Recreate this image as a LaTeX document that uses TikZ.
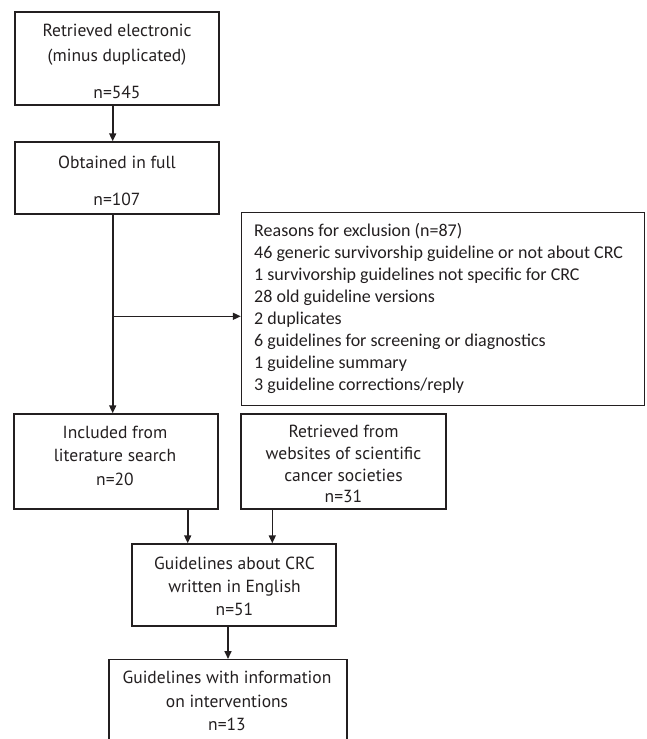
\documentclass[tikz,border=0pt]{standalone}
\usepackage{fontspec}
\setmainfont{PT Sans}
\newfontfamily\exfont{Carlito}
\usetikzlibrary{arrows.meta}
\definecolor{ink}{HTML}{231F20}
\tikzset{
  box/.style={draw=ink, line width=1.4pt, rectangle, inner sep=0pt},
  txt/.style={inner sep=0pt, text=ink, align=center},
  arr/.style={draw=ink, line width=1.6pt, -{Triangle[length=8pt,width=7pt]}},
}
\newsavebox\mbxa
\newsavebox\mbxb
\newsavebox\mbxc
\AtBeginDocument{%
  \sbox\mbxa{\fontsize{18}{20}\selectfont Retrieved electronic}%
  \sbox\mbxb{\fontsize{18}{20}\selectfont Guidelines with information}%
  \sbox\mbxc{\fontsize{18}{20}\selectfont websites of scientific}%
  \pgfmathsetmacro{\tmpbfs}{18*513.3/(\wd\mbxa+\wd\mbxb+\wd\mbxc)}%
  \xdef\bfs{\tmpbfs}}
\newcommand{\fs}[1]{\fontsize{\bfs}{#1}\selectfont}
\begin{document}
\begin{tikzpicture}[x=1pt,y=-1pt]
\useasboundingbox (0,0) rectangle (646,739);
\clip (0,0) rectangle (646,739);
% boxes
\node[box, minimum width=204pt, minimum height=93pt] (b1) at (117,58.5) {};
\node[box, minimum width=204pt, minimum height=72pt] (b2) at (117,178) {};
\node[box, minimum width=403pt, minimum height=192.8pt] (ex) at (443,309.1) {};
\node[box, minimum width=204pt, minimum height=95pt] (b3) at (116,461.5) {};
\node[box, minimum width=205pt, minimum height=95pt] (b4) at (343.5,461.5) {};
\node[box, minimum width=204pt, minimum height=82pt] (b5) at (234,585) {};
\node[box, minimum width=238pt, minimum height=100pt, anchor=north] (b6) at (228,659) {};
% texts
\node[txt, font=\fs{25}] (t1) at (117,62)
  {\strut Retrieved electronic\\\strut(minus duplicated)\\[12pt]\strut n=545};
\node[txt, font=\fs{25}] (t2) at (117,181.5)
  {\strut Obtained in full\\[12pt]\strut n=107};
\node[txt, font=\exfont\fontsize{18}{22}\selectfont, align=left, anchor=west] (tex) at (254,309.5)
  {\strut Reasons for exclusion (n=87)\\
   \strut 46 generic survivorship guideline or not about CRC\\
   \strut 1 survivorship guidelines not specific for CRC\\
   \strut 28 old guideline versions\\
   \strut 2 duplicates\\
   \strut 6 guidelines for screening or diagnostics\\
   \strut 1 guideline summary\\
   \strut 3 guideline corrections/reply};
\node[txt, font=\fs{23.5}] (t3) at (115,457)
  {\strut Included from\\\strut literature search\\\strut n=20};
\node[txt, font=\fs{21.7}] (t4) at (343.5,466)
  {\strut Retrieved from\\\strut websites of scientific\\\strut cancer societies\\\strut n=31};
\node[txt, font=\fs{23}] (t5) at (234.5,587.5)
  {\strut Guidelines about CRC\\\strut written in English\\\strut n=51};
\node[txt, font=\fs{23.5}] (t6) at (227,702.3)
  {\strut Guidelines with information\\\strut on interventions\\\strut n=13};
% connectors
\coordinate (br) at (112.7,316.3);
\draw[arr] (b1.south -| br) -- (b2.north -| br);
\draw[arr] (b2.south -| br) -- (b3.north -| br);
\draw[arr] (br) -- (ex.west |- br);
\coordinate (m1) at (187.7,0);
\coordinate (m2) at (272.3,0);
\draw[arr] (b3.south -| m1) -- (b5.north -| m1);
\draw[arr] (b4.south -| m2) -- (b5.north -| m2);
\draw[arr] (b5.south -| b6.north) -- (b6.north);
\end{tikzpicture}
\end{document}
